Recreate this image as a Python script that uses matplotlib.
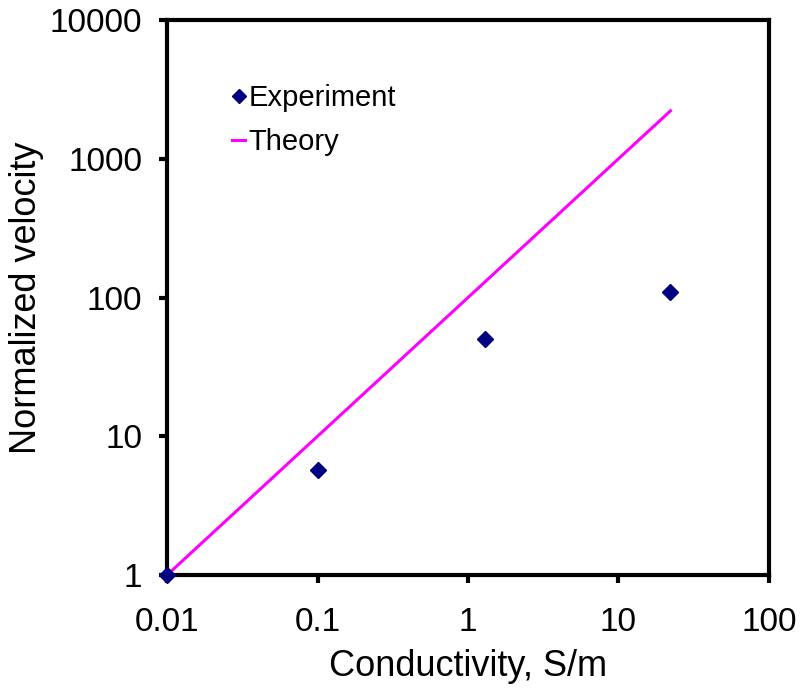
import matplotlib
matplotlib.use("Agg")
import matplotlib.pyplot as plt

plt.rcParams['font.family'] = ['Liberation Sans', 'DejaVu Sans']

exp_cond = [0.01, 0.1, 1.3, 22.2]
exp_vel = [1.0, 5.7, 50.0, 110.0]

# Theory line endpoints
theory_cond = [0.01, 22.2]
theory_vel = [1.0, 2220.0]

x_ticks = [0.01, 0.1, 1, 10, 100]
x_ticklabels = ["0.01", "0.1", "1", "10", "100"]
y_ticks = [1, 10, 100, 1000, 10000]
y_ticklabels = ["1", "10", "100", "1000", "10000"]

fig = plt.figure(figsize=(8, 6.96), dpi=100, facecolor='white')
ax = fig.add_axes([0.209, 0.174, 0.752, 0.797])

ax.plot(theory_cond, theory_vel, color='#FF00FF', linewidth=2.2, label='Theory', zorder=2)
ax.plot(exp_cond, exp_vel, linestyle='none', marker='D', markersize=8,
        color='#000080', label='Experiment', zorder=3, clip_on=False)

ax.set_xscale('log')
ax.set_yscale('log')
ax.set_xlim(0.01, 100)
ax.set_ylim(1, 10000)
ax.set_xticks(x_ticks)
ax.set_xticklabels(x_ticklabels)
ax.set_yticks(y_ticks)
ax.set_yticklabels(y_ticklabels)
ax.minorticks_off()

for s in ax.spines.values():
    s.set_linewidth(3)
ax.tick_params(axis='both', which='major', direction='out', length=6, width=3,
               labelsize=24)
ax.tick_params(axis='x', pad=17)
ax.tick_params(axis='y', pad=12)

ax.set_xlabel('Conductivity, S/m', fontsize=26, labelpad=8)
ax.set_ylabel('Normalized velocity', fontsize=26)
ax.yaxis.set_label_coords(-0.205, 0.5)

handles, labels = ax.get_legend_handles_labels()
leg = ax.legend(handles[::-1], labels[::-1], loc='upper left',
                bbox_to_anchor=(0.108, 0.885), frameon=False, fontsize=21,
                handlelength=0.45, handletextpad=0.1, labelspacing=0.55,
                borderpad=0, borderaxespad=0, markerscale=0.9)

fig.savefig('out.png', dpi=100, facecolor='white')
